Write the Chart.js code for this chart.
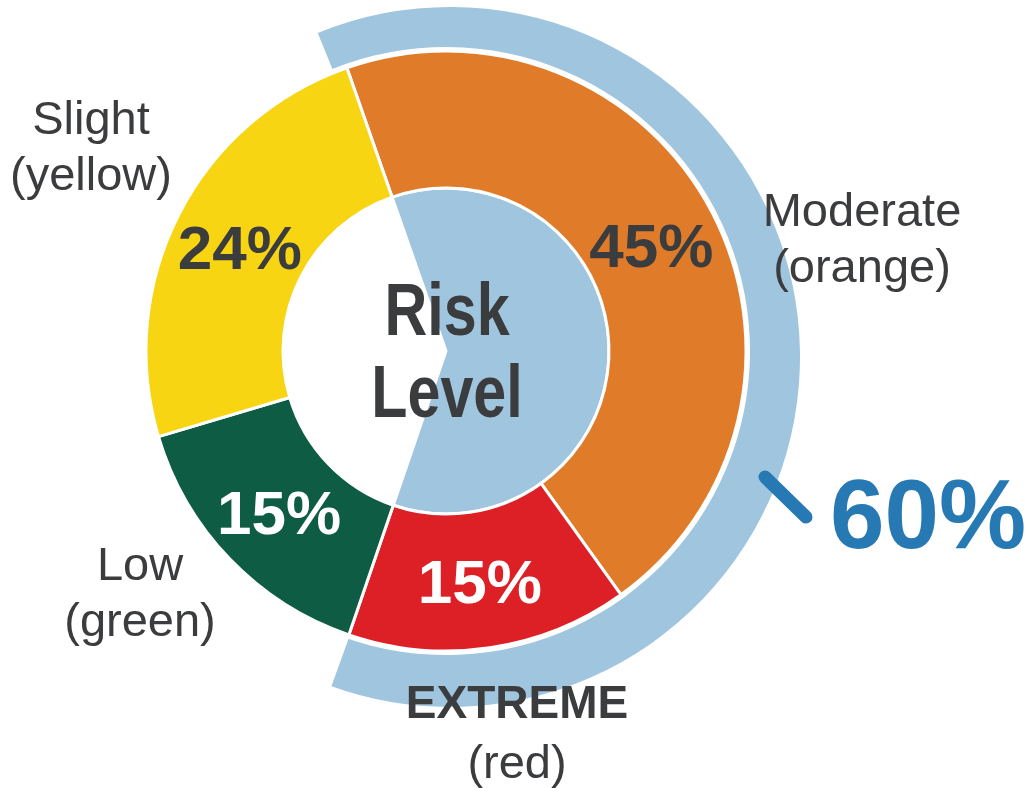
<!DOCTYPE html>
<html lang="en">
<head>
    <meta charset="UTF-8">
    <title>Risk Level</title>
    <script src="https://cdn.jsdelivr.net/npm/chart.js"></script>
    <style>
        html, body {
            margin: 0;
            padding: 0;
            background: #ffffff;
        }
        .chart-stack {
            position: relative;
            width: 1035px;
            height: 788px;
        }
        .chart-layer {
            position: absolute;
            left: 0;
            top: 0;
            width: 1035px;
            height: 788px;
        }
    </style>
</head>
<body>
    <div class="chart-stack">
        <div class="chart-layer"><canvas id="bandChart"></canvas></div>
        <div class="chart-layer"><canvas id="riskChart"></canvas></div>
    </div>

    <script>
        // Risk categories, clockwise from the top-left
        const riskLevels = ['Moderate', 'EXTREME', 'Low', 'Slight'];
        const riskNotes = ['(orange)', '(red)', '(green)', '(yellow)'];
        const riskShares = [45, 15, 15, 24];
        const riskColors = ['#e07b29', '#dd1f26', '#0d5c43', '#f7d512'];
        const labelColors = ['#3b3c3e', '#ffffff', '#ffffff', '#3b3c3e'];

        // Combined share of moderate + extreme
        const elevatedShare = [60];

        const darkText = '#3b3c3e';
        const highlightBlue = '#a0c5df';
        const accentBlue = '#2779b3';

        const elevatedTotal = riskShares[0] + riskShares[1];
        const restTotal = riskShares[2] + riskShares[3];

        // Outer label positions (center of each text block)
        const outerLabelPos = [
            { x: 862, y: 213, bold: false },
            { x: 517, y: 705, bold: true },
            { x: 140, y: 567, bold: false },
            { x: 91, y: 121, bold: false }
        ];

        const labelPlugin = {
            id: 'riskLabels',
            afterDraw(chart) {
                const ctx = chart.ctx;
                const meta = chart.getDatasetMeta(1);
                ctx.save();
                ctx.textAlign = 'center';
                ctx.textBaseline = 'middle';

                // percentage inside each slice
                ctx.font = 'bold 62px "Liberation Sans", Arial, sans-serif';
                meta.data.forEach((arc, i) => {
                    const p = arc.tooltipPosition();
                    ctx.fillStyle = labelColors[i];
                    ctx.fillText(riskShares[i] + '%', p.x, p.y + 6);
                });

                // category names outside the ring
                riskLevels.forEach((name, i) => {
                    const pos = outerLabelPos[i];
                    ctx.fillStyle = darkText;
                    ctx.font = (pos.bold ? 'bold 46px' : '47px') + ' "Liberation Sans", Arial, sans-serif';
                    const text = pos.bold ? name : name.charAt(0) + name.slice(1).toLowerCase();
                    ctx.fillText(text, pos.x, pos.y);
                    ctx.font = '47px "Liberation Sans", Arial, sans-serif';
                    ctx.fillText(riskNotes[i], pos.x, pos.y + (pos.bold ? 60 : 56));
                });

                // centre title, narrowed bold
                ctx.fillStyle = darkText;
                ctx.textBaseline = 'alphabetic';
                ctx.font = 'bold 75px "Liberation Sans", Arial, sans-serif';
                ctx.save();
                ctx.translate(447, 0);
                ctx.scale(0.79, 1);
                ctx.fillText('Risk', 0, 335);
                ctx.fillText('Level', 0, 417);
                ctx.restore();

                // callout for the elevated band
                ctx.strokeStyle = accentBlue;
                ctx.lineWidth = 13;
                ctx.lineCap = 'round';
                ctx.beginPath();
                ctx.moveTo(765, 477);
                ctx.lineTo(806, 517);
                ctx.stroke();

                ctx.fillStyle = accentBlue;
                ctx.textBaseline = 'middle';
                ctx.font = 'bold 98px "Liberation Sans", Arial, sans-serif';
                ctx.fillText(elevatedShare[0] + '%', 928, 521);
                ctx.restore();
            }
        };

        const sharedOptions = {
            responsive: true,
            maintainAspectRatio: false,
            animation: false,
            events: [],
            plugins: {
                legend: { display: false },
                tooltip: { enabled: false }
            }
        };

        // Back layer: highlight band around moderate + extreme
        const bandChart = new Chart(document.getElementById('bandChart'), {
            type: 'doughnut',
            data: {
                labels: ['Moderate + Extreme'],
                datasets: [
                    {
                        data: elevatedShare,
                        backgroundColor: [highlightBlue],
                        borderWidth: 0,
                        rotation: -22.2,
                        circumference: 222,
                        weight: 1
                    },
                    {
                        // zero-width full circle keeps the band centred
                        data: [1],
                        backgroundColor: ['rgba(0,0,0,0)'],
                        borderWidth: 0,
                        weight: 0
                    }
                ]
            },
            options: {
                ...sharedOptions,
                radius: 350,
                cutout: 296,
                layout: {
                    padding: { left: 100, right: 235, top: 7, bottom: 81 }
                }
            }
        });

        // Front layer: the risk ring and the inner wedge
        const riskChart = new Chart(document.getElementById('riskChart'), {
            type: 'doughnut',
            data: {
                labels: riskLevels,
                datasets: [
                    {
                        // white gap between band and ring
                        data: [1],
                        backgroundColor: ['#ffffff'],
                        borderWidth: 0,
                        weight: 4
                    },
                    {
                        data: riskShares,
                        backgroundColor: riskColors,
                        borderColor: '#ffffff',
                        borderWidth: 3,
                        weight: 137
                    },
                    {
                        // inner wedge under moderate + extreme
                        data: [elevatedTotal, restTotal],
                        backgroundColor: [highlightBlue, 'rgba(0,0,0,0)'],
                        borderColor: '#ffffff',
                        borderWidth: [3, 0],
                        weight: 163
                    }
                ]
            },
            options: {
                ...sharedOptions,
                rotation: -19.3,
                cutout: 0,
                radius: 304,
                layout: {
                    padding: { left: 96, right: 239, top: 1, bottom: 87 }
                }
            },
            plugins: [labelPlugin]
        });
    </script>
</body>
</html>
